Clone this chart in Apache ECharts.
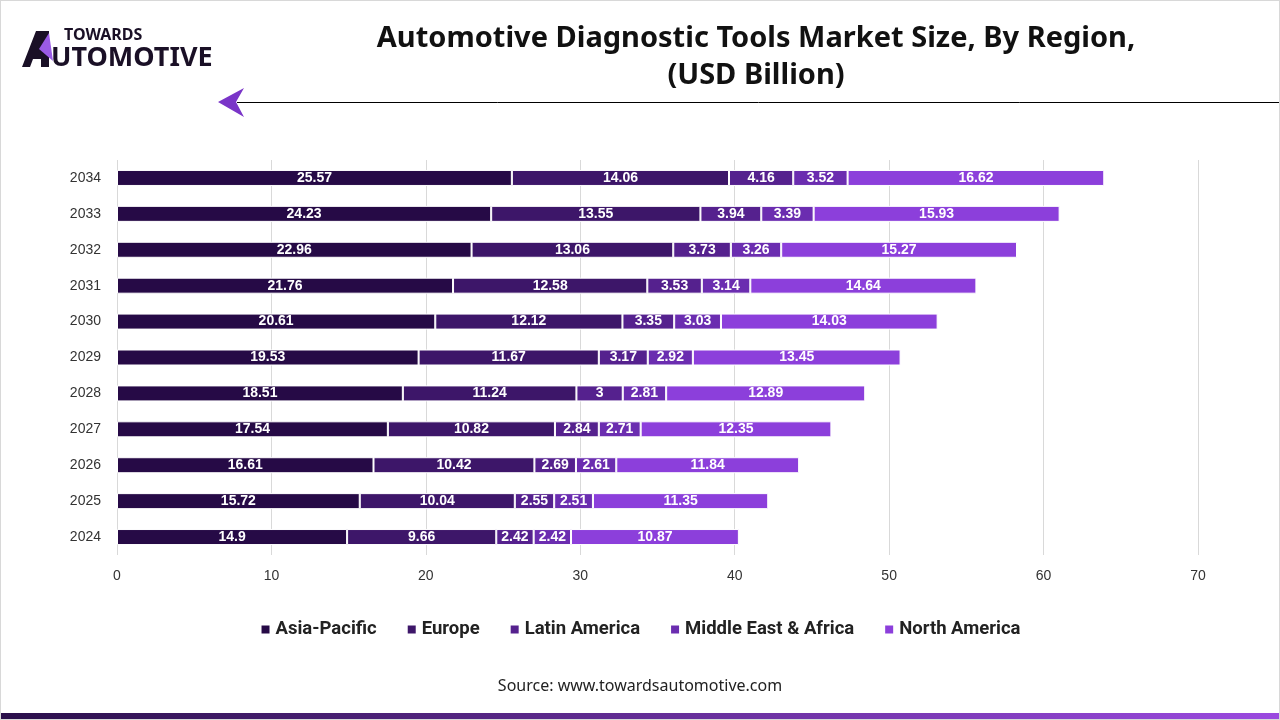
<!DOCTYPE html>
<html><head><meta charset="utf-8">
<script src="https://cdn.jsdelivr.net/npm/echarts@6/dist/echarts.min.js"></script>
<style>html,body{margin:0;padding:0;background:#fff}#c{width:1280px;height:720px;box-sizing:border-box;border:1px solid #d8d8d8}</style>
</head><body><div id="c"></div>
<script>
const years = ['2024','2025','2026','2027','2028','2029','2030','2031','2032','2033','2034'];
const asiaPacific = [14.9,15.72,16.61,17.54,18.51,19.53,20.61,21.76,22.96,24.23,25.57];
const europe = [9.66,10.04,10.42,10.82,11.24,11.67,12.12,12.58,13.06,13.55,14.06];
const latinAmerica = [2.42,2.55,2.69,2.84,3,3.17,3.35,3.53,3.73,3.94,4.16];
const middleEastAfrica = [2.42,2.51,2.61,2.71,2.81,2.92,3.03,3.14,3.26,3.39,3.52];
const northAmerica = [10.87,11.35,11.84,12.35,12.89,13.45,14.03,14.64,15.27,15.93,16.62];
const xTicks = [0,10,20,30,40,50,60,70];

const names = ['Asia-Pacific','Europe','Latin America','Middle East & Africa','North America'];
const colors = ['#260a46','#3d1669','#55218e','#6b2db0','#8c3fdb'];
const datas = [asiaPacific,europe,latinAmerica,middleEastAfrica,northAmerica];

const chart = echarts.init(document.getElementById('c'));
chart.setOption({
  animation:false,
  textStyle:{fontFamily:'"Liberation Sans", Arial, sans-serif'},
  title:{
    text:'Automotive Diagnostic Tools Market Size, By Region,\n(USD Billion)',
    left:750, top:14, textAlign:'center',
    textStyle:{fontFamily:'"Noto Sans", sans-serif',fontSize:29,fontWeight:'bold',color:'#111',lineHeight:37}
  },
  legend:{
    top:614, left:'center', itemWidth:10, itemHeight:10, itemGap:29,
    icon:'rect',
    textStyle:{fontSize:18.5,fontWeight:'bold',color:'#222',fontFamily:'Roboto, sans-serif'},
    data:names
  },
  grid:{left:116, right:81, top:159, bottom:164},
  xAxis:{
    type:'value', min:0, max:70, interval:10,
    axisLine:{show:false}, axisTick:{show:false},
    splitLine:{lineStyle:{color:'#d9d9d9'}},
    axisLabel:{fontSize:14,color:'#333',margin:14}
  },
  yAxis:{
    type:'category', data:years,
    axisLine:{show:false}, axisTick:{show:false},
    axisLabel:{fontSize:14,color:'#333',margin:16}
  },
  series: names.map((n,i)=>({
    name:n, type:'bar', stack:'total', barWidth:16,
    data:datas[i],
    itemStyle:{color:colors[i],borderColor:'#fff',borderWidth:1},
    label:{show:true,position:'inside',color:'#fff',fontWeight:'bold',fontSize:14}
  })),
  graphic:[
    {type:'text',left:'center',top:677,style:{text:'Source: www.towardsautomotive.com',fontSize:16,fill:'#222',fontFamily:'"Noto Sans", sans-serif'}},
    {type:'rect',shape:{x:0,y:712,width:1280,height:8},style:{fill:new echarts.graphic.LinearGradient(0,0,1,0,[{offset:0,color:'#2a0f4a'},{offset:1,color:'#9b4ae0'}])}},
    {type:'line',shape:{x1:236,y1:101.5,x2:1280,y2:101.5},style:{stroke:'#000',lineWidth:1}},
    {type:'polygon',shape:{points:[[217,101],[243,87],[235,101],[243,116]]},style:{fill:'#7a35c8'}},
    {type:'polygon',shape:{points:[[21,66],[35,30],[48,30],[48,66],[40,66],[40,58],[32,58],[29,66]]},style:{fill:'#1a1026'}},
    {type:'polygon',shape:{points:[[38,48],[48,32],[52,60]]},style:{fill:'#9b5be6'}},
    {type:'text',left:63,top:26,style:{text:'TOWARDS',fontSize:16,fontWeight:'bold',fill:'#1a1026',fontFamily:'"Noto Sans", sans-serif'}},
    {type:'text',left:50,top:44,style:{text:'UTOMOTIVE',fontSize:27,fontWeight:'bold',fill:'#1a1026',fontFamily:'"Noto Sans", sans-serif'}}
  ]
});
</script></body></html>
